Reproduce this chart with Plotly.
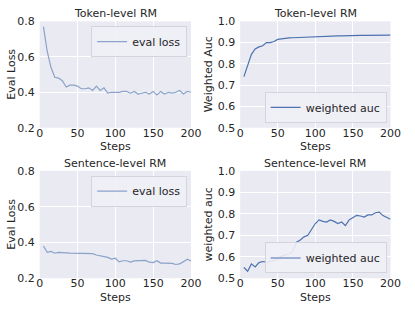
import plotly.graph_objects as go

steps = list(range(5, 205, 5))

token_eval_loss = [0.77, 0.63, 0.54, 0.485, 0.48, 0.465, 0.43, 0.44, 0.44, 0.435,
                   0.42, 0.42, 0.425, 0.41, 0.435, 0.41, 0.425, 0.395, 0.40, 0.40,
                   0.40, 0.405, 0.405, 0.395, 0.405, 0.39, 0.395, 0.40, 0.39, 0.405,
                   0.385, 0.405, 0.39, 0.40, 0.395, 0.40, 0.41, 0.39, 0.405, 0.40]

token_auc = [0.74, 0.79, 0.845, 0.87, 0.88, 0.885, 0.90, 0.90, 0.905, 0.915,
             0.918, 0.92, 0.922, 0.923, 0.924, 0.925, 0.926, 0.927, 0.928, 0.928,
             0.929, 0.929, 0.930, 0.931, 0.931, 0.932, 0.932, 0.933, 0.933, 0.933,
             0.934, 0.934, 0.934, 0.934, 0.934, 0.935, 0.935, 0.932, 0.934, 0.935]

sent_eval_loss = [0.38, 0.345, 0.35, 0.34, 0.345, 0.345, 0.342, 0.34, 0.34, 0.34,
                  0.338, 0.337, 0.336, 0.338, 0.33, 0.325, 0.323, 0.317, 0.307, 0.312,
                  0.292, 0.298, 0.298, 0.29, 0.297, 0.297, 0.297, 0.30, 0.29, 0.288,
                  0.298, 0.285, 0.285, 0.285, 0.283, 0.277, 0.28, 0.293, 0.307, 0.297]

sent_auc = [0.55, 0.533, 0.567, 0.553, 0.573, 0.578, 0.575, 0.578, 0.582, 0.59,
            0.603, 0.608, 0.613, 0.625, 0.668, 0.678, 0.693, 0.70, 0.728, 0.755,
            0.772, 0.765, 0.762, 0.772, 0.765, 0.755, 0.762, 0.745, 0.772, 0.782,
            0.793, 0.79, 0.785, 0.795, 0.795, 0.805, 0.808, 0.792, 0.783, 0.775]

titles = ["Token-level RM", "Token-level RM", "Sentence-level RM", "Sentence-level RM"]
ylabels = ["Eval Loss", "Weighted Auc", "Eval Loss", "weighted auc"]
xlabel = "Steps"
legend_names = ["eval loss", "weighted auc", "eval loss", "weighted auc"]
x_ticks = [0, 50, 100, 150, 200]
loss_ticks = [0.2, 0.4, 0.6, 0.8]
auc_ticks = [0.5, 0.6, 0.7, 0.8, 0.9, 1.0]

W, H = 415, 315
FONT = "DejaVu Sans"
TXT = "#262626"
BLUE = "#4c72b0"
LIGHT = "rgb(139,162,202)"
FS = 11

# pixel boxes: (left, right, top, bottom)
boxes = [(37, 194, 16, 127), (245, 401, 16, 127), (37, 194, 172, 284), (245, 401, 172, 284)]
ylabel_x = [7.5, 212.5, 7.5, 212.5]
series = [token_eval_loss, token_auc, sent_eval_loss, sent_auc]
yranges = [(0.2, 0.8), (0.5, 1.0), (0.2, 0.8), (0.5, 1.0)]
yticks = [loss_ticks, auc_ticks, loss_ticks, auc_ticks]
colors = [LIGHT, BLUE, LIGHT, BLUE]
legend_pos = ["top", "bottom", "top", "bottom"]

fig = go.Figure()
layout = dict(width=W, height=H, margin=dict(l=0, r=0, t=0, b=0),
              paper_bgcolor="white", plot_bgcolor="#eaeaf2",
              font=dict(family=FONT, color=TXT, size=FS), showlegend=True,
              annotations=[])

for i in range(4):
    l, r, t, b = boxes[i]
    xd = [l / W, r / W]
    yd = [1 - b / H, 1 - t / H]
    xa = "xaxis" if i == 0 else f"xaxis{i+1}"
    ya = "yaxis" if i == 0 else f"yaxis{i+1}"
    xr = "x" if i == 0 else f"x{i+1}"
    yr = "y" if i == 0 else f"y{i+1}"
    lg = "legend" if i == 0 else f"legend{i+1}"
    fig.add_trace(go.Scatter(x=steps, y=series[i], mode="lines", name=legend_names[i],
                             line=dict(color=colors[i], width=1.2),
                             xaxis=xr, yaxis=yr, legend=lg))
    layout[xa] = dict(domain=xd, anchor=yr, range=[0, 200], tickvals=x_ticks,
                      showgrid=True, gridcolor="white", gridwidth=1, zeroline=False,
                      showline=False, ticks="", ticklabelstandoff=-3,
                      tickfont=dict(size=FS, color=TXT))
    layout[ya] = dict(domain=yd, anchor=xr, range=list(yranges[i]), tickvals=yticks[i],
                      tickformat=".1f", ticklabelstandoff=4,
                      showgrid=True, gridcolor="white", gridwidth=1, zeroline=False,
                      showline=False, ticks="", tickfont=dict(size=FS, color=TXT))
    if legend_pos[i] == "top":
        ly, lya = 1 - (t + 5) / H, "top"
    else:
        ly, lya = 1 - (b - 5) / H, "bottom"
    layout[lg] = dict(x=(r - 4) / W, xanchor="right", y=ly, yanchor=lya,
                      bgcolor="rgba(240,240,246,0.9)", bordercolor="#d4d4dc", borderwidth=1,
                      font=dict(size=FS, color=TXT), itemwidth=30)
    ann = layout["annotations"]
    ann.append(dict(text=titles[i], x=(l + r) / 2 / W, y=1 - (t - 8) / H,
                    xref="paper", yref="paper", xanchor="center", yanchor="middle",
                    showarrow=False, font=dict(size=FS, color=TXT)))
    ann.append(dict(text=xlabel, x=(l + r) / 2 / W, y=1 - (b + 20) / H,
                    xref="paper", yref="paper", xanchor="center", yanchor="middle",
                    showarrow=False, font=dict(size=FS, color=TXT)))
    ann.append(dict(text=ylabels[i], x=ylabel_x[i] / W, y=1 - (t + b) / 2 / H,
                    xref="paper", yref="paper", xanchor="center", yanchor="middle",
                    textangle=-90, showarrow=False, font=dict(size=FS, color=TXT)))

fig.update_layout(**layout)
fig.write_html("out.html", config={"displayModeBar": False},
               post_script="document.body.style.margin='0';document.body.style.padding='0';")
